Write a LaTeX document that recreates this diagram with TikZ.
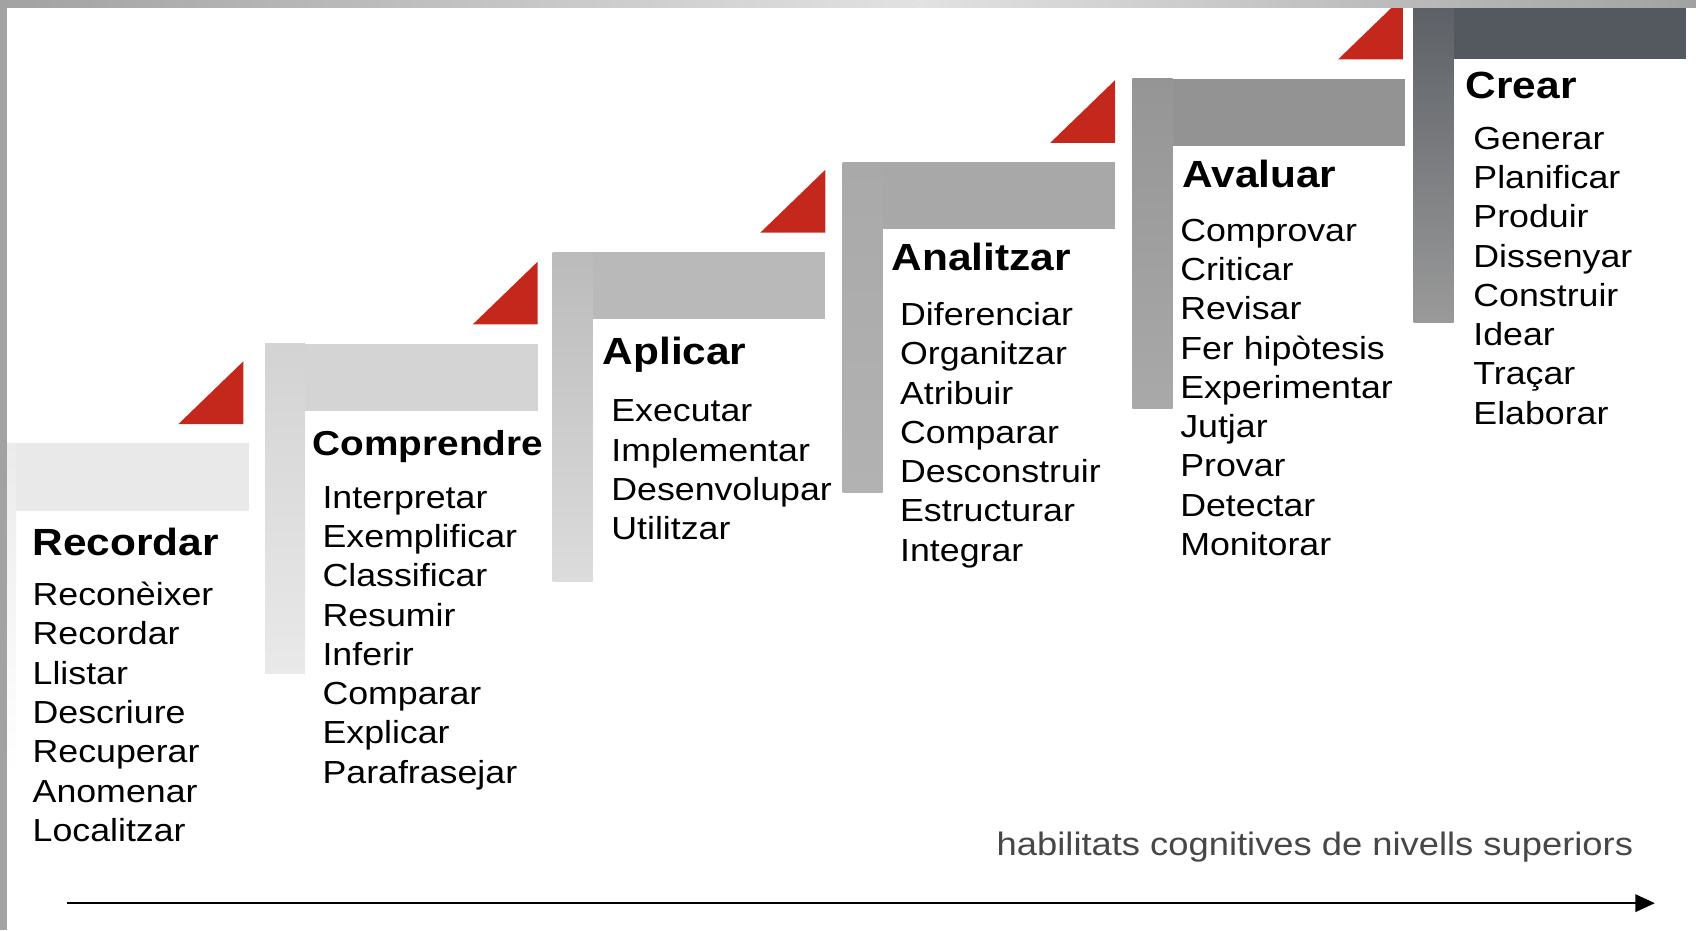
\documentclass[tikz,border=0pt]{standalone}
\usepackage{fontspec}
\setmainfont{Liberation Sans}[FakeStretch=1.12]
\usetikzlibrary{arrows.meta}

\definecolor{stepred}{HTML}{C4281C}
\definecolor{frame}{HTML}{A2A2A2}
\definecolor{framelight}{HTML}{E2E2E2}
% one bar colour and a top/bottom pair for each step
\definecolor{recbar}{HTML}{E9E9E9}   \definecolor{rectop}{HTML}{EBEBEB}   \definecolor{recbot}{HTML}{FFFFFF}
\definecolor{combar}{HTML}{D4D4D4}   \definecolor{comtop}{HTML}{D3D3D3}   \definecolor{combot}{HTML}{E9E9E9}
\definecolor{aplbar}{HTML}{B9B9B9}   \definecolor{apltop}{HTML}{BBBBBB}   \definecolor{aplbot}{HTML}{DCDCDC}
\definecolor{anabar}{HTML}{A8A8A8}   \definecolor{anatop}{HTML}{A9A9A9}   \definecolor{anabot}{HTML}{B2B2B2}
\definecolor{avabar}{HTML}{939393}   \definecolor{avatop}{HTML}{959595}   \definecolor{avabot}{HTML}{A9A9A9}
\definecolor{crebar}{HTML}{54585F}   \definecolor{cretop}{HTML}{5A5E64}   \definecolor{crebot}{HTML}{9A9A9A}

\tikzset{
  steptitle/.style={anchor=base west, inner sep=0pt, font=\bfseries\fontsize{35}{40}\selectfont},
  stepverb/.style={anchor=base west, inner sep=0pt, font=\fontsize{29.5}{36}\selectfont},
  axis/.style={line width=2.2pt, -{Triangle[length=18pt,width=16pt]}},
}

\begin{document}
\begin{tikzpicture}[x=1pt, y=-1pt]
    \useasboundingbox (0,0) rectangle (1568,860);
    \clip (0,0) rectangle (1568,860);

    % the six steps: bar, shaded upright, red corner
    \foreach \x/\y/\c/\t in {-22/410/rec/225, 245/318/com/497, 511/233/apl/763, 779/150/ana/1031, 1047/73/ava/1297, 1307/-7/cre/1559}{
        \fill[\c bar] (\x,\y) rectangle ++(252,62);
        \shade[top color=\c top, bottom color=\c bot] (\x,\y) rectangle ++(37,305);
        \fill[stepred] (\t,\y-18) -- ++(-60,0) -- ++(60,-58) -- cycle;
    }

    % Recordar
    \node[steptitle] (recordar) at (30,514) {Recordar};
    \foreach \w [count=\i from 0] in {Reconèixer, Recordar, Llistar, Descriure, Recuperar, Anomenar, Localitzar}
        \node[stepverb] (recordar-\i) at (30,{560+36.3*\i}) {\w};

    % Comprendre
    \node[steptitle, font=\bfseries\fontsize{32}{38}\selectfont] (comprendre) at (289,421) {Comprendre};
    \foreach \w [count=\i from 0] in {Interpretar, Exemplificar, Classificar, Resumir, Inferir, Comparar, Explicar, Parafrasejar}
        \node[stepverb] (comprendre-\i) at (298,{470+36.3*\i}) {\w};

    % Aplicar
    \node[steptitle] (aplicar) at (557,337) {Aplicar};
    \foreach \w [count=\i from 0] in {Executar, Implementar, Desenvolupar, Utilitzar}
        \node[stepverb] (aplicar-\i) at (565,{390+36.3*\i}) {\w};

    % Analitzar
    \node[steptitle] (analitzar) at (824,250) {Analitzar};
    \foreach \w [count=\i from 0] in {Diferenciar, Organitzar, Atribuir, Comparar, Desconstruir, Estructurar, Integrar}
        \node[stepverb] (analitzar-\i) at (832,{301+36.3*\i}) {\w};

    % Avaluar
    \node[steptitle] (avaluar) at (1093,173) {Avaluar};
    \foreach \w [count=\i from 0] in {Comprovar, Criticar, Revisar, Fer hipòtesis, Experimentar, Jutjar, Provar, Detectar, Monitorar}
        \node[stepverb] (avaluar-\i) at (1091,{223+36.3*\i}) {\w};

    % Crear
    \node[steptitle] (crear) at (1355,91) {Crear};
    \foreach \w [count=\i from 0] in {Generar, Planificar, Produir, Dissenyar, Construir, Idear, Traçar, Elaborar}
        \node[stepverb] (crear-\i) at (1362,{138+36.3*\i}) {\w};

    % axis
    \node[anchor=base east, inner sep=0pt, text=black!72, font=\fontsize{30}{36}\selectfont] (higher) at (1510,791) {habilitats cognitives de nivells superiors};
    \coordinate (axis-start) at (62,835);
    \coordinate (axis-end) at (1530,835);
    \draw[axis] (axis-start) -- (axis-end);

    % frame
    \shade[left color=frame, right color=framelight] (0,0) rectangle (850,7);
    \shade[left color=framelight, right color=frame] (850,0) rectangle (1568,7);
    \fill[frame] (0,0) rectangle (6.4,860);
\end{tikzpicture}
\end{document}
